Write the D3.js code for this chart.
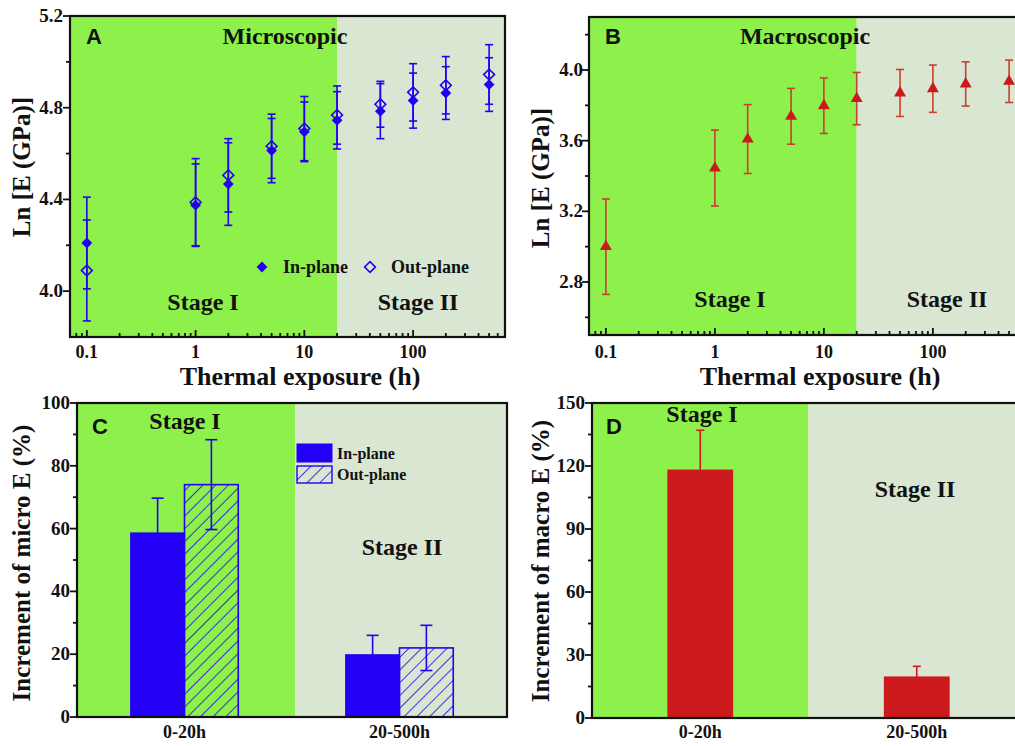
<!DOCTYPE html>
<html>
<head>
<meta charset="utf-8">
<script src="https://cdn.jsdelivr.net/npm/d3@7"></script>
<style>
  body { margin: 0; background: #fff; }
  text { font-family: 'Liberation Serif', 'Times New Roman', serif; font-weight: bold; fill: #111; }
  text.letter { font-family: 'Liberation Sans', Arial, sans-serif; }
</style>
</head>
<body>
<div id="chart"></div>
<script>
// exposure times (h)
var hours = [0.1, 1, 2, 5, 10, 20, 50, 100, 200, 500]
var microIn = [4.21, 4.375, 4.467, 4.613, 4.695, 4.745, 4.785, 4.831, 4.864, 4.901]
var microInErr = [0.20, 0.18, 0.18, 0.14, 0.13, 0.125, 0.12, 0.12, 0.115, 0.117]
var microOut = [4.09, 4.388, 4.505, 4.632, 4.709, 4.768, 4.815, 4.867, 4.898, 4.945]
var microOutErr = [0.22, 0.19, 0.16, 0.14, 0.14, 0.127, 0.10, 0.125, 0.125, 0.13]
var macro = [3.0, 3.445, 3.609, 3.738, 3.798, 3.838, 3.87, 3.894, 3.921, 3.936]
var macroErr = [0.27, 0.215, 0.195, 0.158, 0.157, 0.148, 0.133, 0.134, 0.125, 0.12]
var stageSplit = 20
var logTickLabels = [0.1, 1, 10, 100]

var groups = ['0-20h', '20-500h']
var incMicroIn = [58.6, 19.8]
var incMicroInErr = [11.1, 6.2]
var incMicroOut = [74.0, 22.0]
var incMicroOutErr = [14.3, 7.2]
var incMacro = [118.3, 19.8]
var incMacroErr = [18.7, 4.8]

var W = 1015
var H = 746
var GREEN = '#8ef04a'
var GREY = '#d9e6d2'
var BLUE = '#2300f5'
var RED = '#cc1a1c'

var svg = d3.select('#chart').append('svg').attr('width', W).attr('height', H)
var defs = svg.append('defs')
defs.append('clipPath').attr('id', 'page').append('rect').attr('width', W).attr('height', H)
var hatch = defs.append('pattern').attr('id', 'hatch').attr('patternUnits', 'userSpaceOnUse')
  .attr('width', 9).attr('height', 9).attr('patternTransform', 'rotate(45)')
hatch.append('line').attr('x1', 0).attr('y1', 0).attr('x2', 0).attr('y2', 9)
  .attr('stroke', BLUE).attr('stroke-width', 1.6)

var root = svg.append('g').attr('clip-path', 'url(#page)')

function frame (g, x0, y0, x1, y1) {
  g.append('rect').attr('x', x0).attr('y', y0).attr('width', x1 - x0).attr('height', y1 - y0)
    .attr('fill', 'none').attr('stroke', '#111').attr('stroke-width', 2.2)
}

function yAxis (g, y, x0, major, minor, fmt, labelX) {
  minor.forEach(function (v) {
    g.append('line').attr('x1', x0 - 4).attr('x2', x0).attr('y1', y(v)).attr('y2', y(v))
      .attr('stroke', '#111').attr('stroke-width', 1.8)
  })
  major.forEach(function (v) {
    g.append('line').attr('x1', x0 - 7).attr('x2', x0).attr('y1', y(v)).attr('y2', y(v))
      .attr('stroke', '#111').attr('stroke-width', 1.8)
    g.append('text').attr('x', labelX).attr('y', y(v) + 6).attr('text-anchor', 'end')
      .attr('font-size', 19).text(fmt(v))
  })
}

function logXAxis (g, x, y0, labelY) {
  var lo = x.domain()[0]
  var hi = x.domain()[1]
  var ticks = []
  ;[0.01, 0.1, 1, 10, 100].forEach(function (d) {
    for (var k = 1; k < 10; k++) {
      var v = d * k
      if (v >= lo && v <= hi) ticks.push({ v: v, major: k === 1 })
    }
  })
  ticks.forEach(function (t) {
    g.append('line').attr('x1', x(t.v)).attr('x2', x(t.v)).attr('y1', y0).attr('y2', y0 - (t.major ? 7 : 4))
      .attr('stroke', '#111').attr('stroke-width', 1.8)
  })
  logTickLabels.forEach(function (v) {
    g.append('text').attr('x', x(v)).attr('y', labelY).attr('text-anchor', 'middle')
      .attr('font-size', 18).text(String(v))
  })
}

function errBar (g, cx, yTop, yBot, color, cap) {
  g.append('line').attr('x1', cx).attr('x2', cx).attr('y1', yTop).attr('y2', yBot)
    .attr('stroke', color).attr('stroke-width', 1.6)
  ;[yTop, yBot].forEach(function (yy) {
    g.append('line').attr('x1', cx - cap).attr('x2', cx + cap).attr('y1', yy).attr('y2', yy)
      .attr('stroke', color).attr('stroke-width', 1.6)
  })
}

function sideLabel (g, text, cx, cy) {
  g.append('text').attr('transform', 'translate(' + cx + ',' + cy + ') rotate(-90)')
    .attr('text-anchor', 'middle').attr('font-size', 25).text(text)
}

function letter (g, text, x, y) {
  g.append('text').attr('class', 'letter').attr('x', x).attr('y', y).attr('font-size', 22).text(text)
}

// ---------- panel A ----------
var gA = root.append('g')
var xA = d3.scaleLog().domain([0.07, 700]).range([70, 505])
var yA = d3.scaleLinear().domain([3.8, 5.2]).range([337, 16])
gA.append('rect').attr('x', 70).attr('y', 16).attr('width', xA(stageSplit) - 70).attr('height', 321).attr('fill', GREEN)
gA.append('rect').attr('x', xA(stageSplit)).attr('y', 16).attr('width', 505 - xA(stageSplit)).attr('height', 321).attr('fill', GREY)

hours.forEach(function (h, i) {
  errBar(gA, xA(h), yA(microIn[i] + microInErr[i]), yA(microIn[i] - microInErr[i]), BLUE, 4)
  errBar(gA, xA(h), yA(microOut[i] + microOutErr[i]), yA(microOut[i] - microOutErr[i]), BLUE, 4)
})
var diamond = d3.symbol().type(d3.symbolSquare).size(58)
hours.forEach(function (h, i) {
  gA.append('path').attr('d', diamond).attr('transform', 'translate(' + xA(h) + ',' + yA(microIn[i]) + ') rotate(45)')
    .attr('fill', BLUE)
  gA.append('path').attr('d', diamond).attr('transform', 'translate(' + xA(h) + ',' + yA(microOut[i]) + ') rotate(45)')
    .attr('fill', 'none').attr('stroke', BLUE).attr('stroke-width', 1.6)
})
gA.append('path').attr('d', diamond).attr('transform', 'translate(262,267) rotate(45)').attr('fill', BLUE)
gA.append('text').attr('x', 283).attr('y', 273).attr('font-size', 18).text('In-plane')
gA.append('path').attr('d', diamond).attr('transform', 'translate(370,267) rotate(45)')
  .attr('fill', 'none').attr('stroke', BLUE).attr('stroke-width', 1.6)
gA.append('text').attr('x', 391).attr('y', 273).attr('font-size', 18).text('Out-plane')

letter(gA, 'A', 86, 44)
gA.append('text').attr('x', 285).attr('y', 44).attr('text-anchor', 'middle').attr('font-size', 24).text('Microscopic')
gA.append('text').attr('x', 203).attr('y', 310).attr('text-anchor', 'middle').attr('font-size', 24).text('Stage I')
gA.append('text').attr('x', 418).attr('y', 310).attr('text-anchor', 'middle').attr('font-size', 24).text('Stage II')

yAxis(gA, yA, 70, [4.0, 4.4, 4.8, 5.2], [4.2, 4.6, 5.0], d3.format('.1f'), 63)
logXAxis(gA, xA, 337, 358)
frame(gA, 70, 16, 505, 337)
sideLabel(gA, 'Ln [E (GPa)]', 30, 167)
gA.append('text').attr('x', 300).attr('y', 385).attr('text-anchor', 'middle').attr('font-size', 26).text('Thermal exposure (h)')

// ---------- panel B ----------
var gB = root.append('g')
var xB = d3.scaleLog().domain([0.07, 700]).range([589, 1025])
var yB = d3.scaleLinear().domain([2.5, 4.3]).range([335, 17])
gB.append('rect').attr('x', 589).attr('y', 17).attr('width', xB(stageSplit) - 589).attr('height', 318).attr('fill', GREEN)
gB.append('rect').attr('x', xB(stageSplit)).attr('y', 17).attr('width', 1025 - xB(stageSplit)).attr('height', 318).attr('fill', GREY)
hours.forEach(function (h, i) {
  errBar(gB, xB(h), yB(macro[i] + macroErr[i]), yB(macro[i] - macroErr[i]), '#c8402e', 4)
})
var tri = d3.symbol().type(d3.symbolTriangle).size(62)
hours.forEach(function (h, i) {
  gB.append('path').attr('d', tri).attr('transform', 'translate(' + xB(h) + ',' + yB(macro[i]) + ')').attr('fill', RED)
})
letter(gB, 'B', 605, 44)
gB.append('text').attr('x', 805).attr('y', 44).attr('text-anchor', 'middle').attr('font-size', 24).text('Macroscopic')
gB.append('text').attr('x', 730).attr('y', 307).attr('text-anchor', 'middle').attr('font-size', 24).text('Stage I')
gB.append('text').attr('x', 947).attr('y', 307).attr('text-anchor', 'middle').attr('font-size', 24).text('Stage II')
yAxis(gB, yB, 589, [2.8, 3.2, 3.6, 4.0], [2.6, 3.0, 3.4, 3.8, 4.2], d3.format('.1f'), 583)
logXAxis(gB, xB, 335, 358)
frame(gB, 589, 17, 1025, 335)
sideLabel(gB, 'Ln [E (GPa)]', 549, 178)
gB.append('text').attr('x', 820).attr('y', 385).attr('text-anchor', 'middle').attr('font-size', 26).text('Thermal exposure (h)')

// ---------- panel C ----------
var gC = root.append('g')
var xC = d3.scaleBand().domain(groups).range([77, 507]).paddingInner(0.5).paddingOuter(0.25)
var yC = d3.scaleLinear().domain([0, 100]).range([717, 403])
var splitC = xC(groups[1]) - xC.step() * 0.25 + 3
gC.append('rect').attr('x', 77).attr('y', 403).attr('width', splitC - 77).attr('height', 314).attr('fill', GREEN)
gC.append('rect').attr('x', splitC).attr('y', 403).attr('width', 507 - splitC).attr('height', 314).attr('fill', GREY)
var half = xC.bandwidth() / 2
groups.forEach(function (g, i) {
  var x0 = xC(g)
  gC.append('rect').attr('x', x0).attr('y', yC(incMicroIn[i])).attr('width', half).attr('height', yC(0) - yC(incMicroIn[i]))
    .attr('fill', BLUE).attr('stroke', BLUE).attr('stroke-width', 1.2)
  gC.append('rect').attr('x', x0 + half).attr('y', yC(incMicroOut[i])).attr('width', half).attr('height', yC(0) - yC(incMicroOut[i]))
    .attr('fill', 'url(#hatch)').attr('stroke', BLUE).attr('stroke-width', 1.6)
  errBar(gC, x0 + half / 2, yC(incMicroIn[i] + incMicroInErr[i]), yC(incMicroIn[i] - incMicroInErr[i]), BLUE, 6)
  errBar(gC, x0 + half * 1.5, yC(incMicroOut[i] + incMicroOutErr[i]), yC(incMicroOut[i] - incMicroOutErr[i]), BLUE, 6)
  gC.append('text').attr('x', x0 + half).attr('y', 738).attr('text-anchor', 'middle').attr('font-size', 18).text(g)
})
gC.append('rect').attr('x', 297).attr('y', 444).attr('width', 35).attr('height', 18).attr('fill', BLUE).attr('stroke', BLUE)
gC.append('rect').attr('x', 297).attr('y', 466).attr('width', 35).attr('height', 17).attr('fill', 'url(#hatch)').attr('stroke', BLUE).attr('stroke-width', 1.4)
gC.append('text').attr('x', 337).attr('y', 459).attr('font-size', 16).text('In-plane')
gC.append('text').attr('x', 337).attr('y', 480).attr('font-size', 16).text('Out-plane')
letter(gC, 'C', 92, 434)
gC.append('text').attr('x', 185).attr('y', 429).attr('text-anchor', 'middle').attr('font-size', 24).text('Stage I')
gC.append('text').attr('x', 402).attr('y', 555).attr('text-anchor', 'middle').attr('font-size', 24).text('Stage II')
yAxis(gC, yC, 77, [0, 20, 40, 60, 80, 100], [10, 30, 50, 70, 90], d3.format('d'), 70)
frame(gC, 77, 403, 507, 717)
sideLabel(gC, 'Increment of micro E (%)', 30, 563)

// ---------- panel D ----------
var gD = root.append('g')
var xD = d3.scaleBand().domain(groups).range([592, 1025]).paddingInner(0.696).paddingOuter(0.348)
var yD = d3.scaleLinear().domain([0, 150]).range([718, 403])
var splitD = (xD(groups[0]) + xD(groups[1])) / 2 + xD.bandwidth() / 2
gD.append('rect').attr('x', 592).attr('y', 403).attr('width', splitD - 592).attr('height', 315).attr('fill', GREEN)
gD.append('rect').attr('x', splitD).attr('y', 403).attr('width', 1025 - splitD).attr('height', 315).attr('fill', GREY)
groups.forEach(function (g, i) {
  var x0 = xD(g)
  gD.append('rect').attr('x', x0).attr('y', yD(incMacro[i])).attr('width', xD.bandwidth()).attr('height', yD(0) - yD(incMacro[i]))
    .attr('fill', RED)
  errBar(gD, x0 + xD.bandwidth() / 2, yD(incMacro[i] + incMacroErr[i]), yD(incMacro[i] - incMacroErr[i]), RED, 4)
  gD.append('text').attr('x', x0 + xD.bandwidth() / 2).attr('y', 738).attr('text-anchor', 'middle').attr('font-size', 18).text(g)
})
letter(gD, 'D', 606, 434)
gD.append('text').attr('x', 702).attr('y', 422).attr('text-anchor', 'middle').attr('font-size', 24).text('Stage I')
gD.append('text').attr('x', 915).attr('y', 497).attr('text-anchor', 'middle').attr('font-size', 24).text('Stage II')
yAxis(gD, yD, 592, [0, 30, 60, 90, 120, 150], [15, 45, 75, 105, 135], d3.format('d'), 585)
frame(gD, 592, 403, 1025, 718)
sideLabel(gD, 'Increment of macro E (%)', 549, 561)
</script>
</body>
</html>
